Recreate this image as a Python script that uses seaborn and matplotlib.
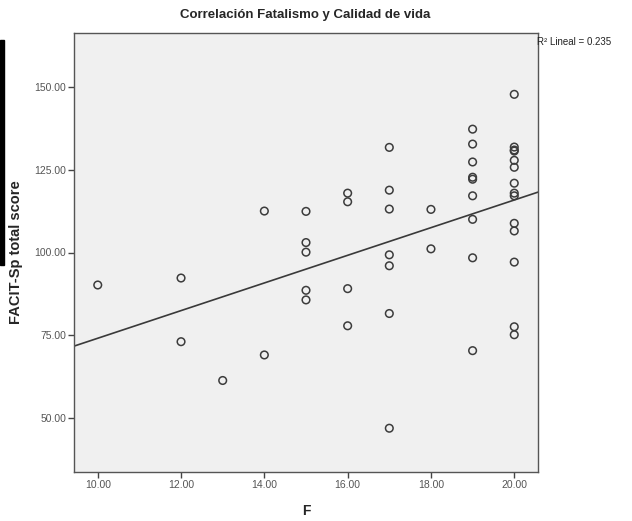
# scatter of fatalism score vs FACIT-Sp with linear fit

import matplotlib
matplotlib.use("Agg")
import matplotlib.pyplot as plt
from matplotlib.patches import Rectangle
import seaborn as sns
import pandas as pd

# values, grouped by F
f_values = [10,
            12, 12,
            13,
            14, 14,
            15, 15, 15, 15, 15,
            16, 16, 16, 16,
            17, 17, 17, 17, 17, 17, 17,
            18, 18,
            19, 19, 19, 19, 19, 19, 19, 19, 19,
            20, 20, 20, 20, 20, 20, 20, 20, 20, 20, 20, 20, 20, 20]
facit_values = [90.2,
                92.3, 73.1,
                61.4,
                112.5, 69.1,
                112.4, 103.0, 100.1, 88.6, 85.7,
                117.9, 115.3, 89.1, 77.9,
                131.7, 118.8, 113.1, 99.3, 96.0, 81.6, 47.0,
                113.0, 101.1,
                137.2, 132.7, 127.3, 122.7, 122.1, 117.1, 110.0, 98.4, 70.4,
                147.7, 131.8, 130.9, 130.6, 127.8, 125.7, 120.9, 117.9, 117.1,
                108.8, 106.5, 97.1, 77.6, 75.2]

y_ticks = [50, 75, 100, 125, 150]
x_ticks = [10, 12, 14, 16, 18, 20]
r2_label = "R² Lineal = 0.235"

df = pd.DataFrame({"F": f_values, "FACIT": facit_values})

sns.set_style("ticks")
plt.rcParams["font.family"] = ["Liberation Sans", "DejaVu Sans"]

fig = plt.figure(figsize=(6.32, 5.21), dpi=100)
ax = fig.add_axes([74 / 632, 1 - 472 / 521, (538 - 74) / 632, (472 - 33) / 521])
ax.set_facecolor("#f0f0f0")

sns.scatterplot(data=df, x="F", y="FACIT", ax=ax, marker="o", s=30,
                facecolor="none", edgecolor="#3c3c3c", linewidth=1.1)

ax.set_xlim(9.43, 20.57)
ax.set_ylim(33.8, 166.2)
sns.regplot(data=df, x="F", y="FACIT", ax=ax, scatter=False, ci=None,
            truncate=False, color="#3a3a3a", line_kws={"linewidth": 1.2})
ax.set_xlim(9.43, 20.57)
ax.set_ylim(33.8, 166.2)

ax.set_xticks(x_ticks)
ax.set_yticks(y_ticks)
ax.set_xticklabels([f"{v:.2f}" for v in x_ticks])
ax.set_yticklabels([f"{v:.2f}" for v in y_ticks])
ax.tick_params(axis="both", labelsize=7.5, labelcolor="#555555", color="#444444",
               length=4, width=1, direction="out", pad=1.5)

for side in ["left", "right", "top", "bottom"]:
    ax.spines[side].set_visible(True)
    ax.spines[side].set_color("#555555")
    ax.spines[side].set_linewidth(1.0)

ax.set_xlabel("F", fontsize=10, fontweight="bold", labelpad=10)
ax.set_ylabel("")
fig.text(16 / 632, 1 - 252 / 521, "FACIT-Sp total score", rotation=90,
         fontsize=10.5, fontweight="bold", ha="center", va="center")

fig.text(305 / 632, 1 - 15 / 521, "Correlación Fatalismo y Calidad de vida",
         fontsize=9.5, fontweight="bold", ha="center", va="center")
fig.text(537 / 632, 1 - 42 / 521, r2_label, fontsize=7, ha="left", va="center",
         color="#222222")

# dark strip at the left border of the original picture
fig.patches.append(Rectangle((0, 1 - 265 / 521), 4 / 632, (265 - 40) / 521,
                             transform=fig.transFigure, color="black"))

fig.savefig("out.png", dpi=100)
